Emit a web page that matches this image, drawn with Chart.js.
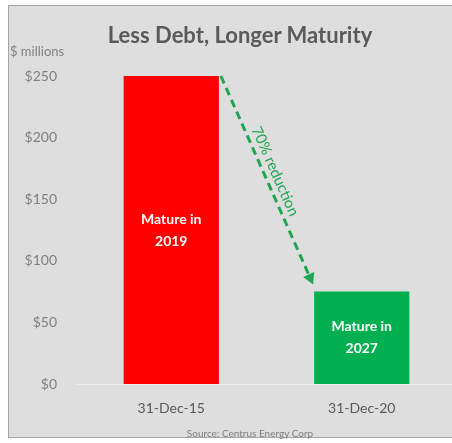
<!DOCTYPE html>
<html>
<head>
<meta charset="utf-8">
<script src="https://cdn.jsdelivr.net/npm/chart.js@4"></script>
<style>
body{margin:0;background:#fff;overflow:hidden;width:452px;height:443px;position:relative;font-family:Lato,'Open Sans',sans-serif}
#frame{position:absolute;left:8px;top:5px;width:460px;height:431px;background:#dedede;border:1px solid #a6a6a6}
#wrap{position:absolute;left:0;top:0}
.txt{position:absolute;white-space:nowrap;line-height:1}
#title{left:0;width:480px;top:24px;text-align:center;font-size:22px;font-weight:bold;color:#5a5a5a}
#units{left:10px;top:45px;font-size:13px;color:#808080}
#source{left:0;width:500px;top:428px;text-align:center;font-size:10px;color:#808080}
</style>
</head>
<body>
<div id="frame"></div>
<div id="wrap"><canvas id="chart" width="457" height="443"></canvas></div>
<div class="txt" id="title">Less Debt, Longer Maturity</div>
<div class="txt" id="units">$ millions</div>
<div class="txt" id="source">Source: Centrus Energy Corp</div>
<script>
const categories = ['31-Dec-15', '31-Dec-20'];
const debtValues = [250, 75];
const barColors = ['#ff0000', '#00b050'];
const barLabels = [['Mature in', '2019'], ['Mature in', '2027']];
const arrowLabel = '70% reduction';
const yMax = 250;
const yStep = 50;

const FONT = "Lato, 'Open Sans', sans-serif";

// text inside bars + dashed arrow between them
const notes = {
  id: 'notes',
  afterDatasetsDraw(chart) {
    const ctx = chart.ctx;
    const bars = chart.getDatasetMeta(0).data;
    ctx.save();
    ctx.fillStyle = '#ffffff';
    ctx.font = 'bold 14px ' + FONT;
    ctx.textAlign = 'center';
    ctx.textBaseline = 'middle';
    bars.forEach((b, i) => {
      const lines = barLabels[i];
      const cy = (b.y + b.base) / 2;
      lines.forEach((t, k) => {
        ctx.fillText(t, b.x, cy + (k - (lines.length - 1) / 2) * 22);
      });
    });

    const a = bars[0], g = bars[1];
    const x1 = a.x + a.width / 2 + 2, y1 = a.y;
    const x2 = g.x - g.width / 2 - 1, y2 = g.y - 7;
    const ang = Math.atan2(y2 - y1, x2 - x1);
    const head = 11;
    ctx.strokeStyle = '#1fa552';
    ctx.fillStyle = '#1fa552';
    ctx.lineWidth = 3;
    ctx.setLineDash([8, 5]);
    ctx.beginPath();
    ctx.moveTo(x1, y1);
    ctx.lineTo(x2 - head * Math.cos(ang), y2 - head * Math.sin(ang));
    ctx.stroke();
    ctx.setLineDash([]);
    ctx.beginPath();
    ctx.moveTo(x2, y2);
    ctx.lineTo(x2 - head * Math.cos(ang) + 6 * Math.sin(ang), y2 - head * Math.sin(ang) - 6 * Math.cos(ang));
    ctx.lineTo(x2 - head * Math.cos(ang) - 6 * Math.sin(ang), y2 - head * Math.sin(ang) + 6 * Math.cos(ang));
    ctx.closePath();
    ctx.fill();

    ctx.translate((x1 + x2) / 2, (y1 + y2) / 2);
    ctx.rotate(ang);
    ctx.font = '15px ' + FONT;
    ctx.fillText(arrowLabel, -5, -11);
    ctx.restore();
  }
};

new Chart(document.getElementById('chart'), {
  type: 'bar',
  data: {
    labels: categories,
    datasets: [{
      data: debtValues,
      backgroundColor: barColors,
      borderWidth: 0,
      categoryPercentage: 1,
      barPercentage: 0.5
    }]
  },
  options: {
    responsive: false,
    animation: false,
    layout: {padding: {top: 76, left: 0, right: 0, bottom: 0}},
    plugins: {legend: {display: false}, tooltip: {enabled: false}},
    scales: {
      x: {
        grid: {display: false, drawTicks: false},
        border: {color: '#ececec', width: 1},
        ticks: {color: '#595959', font: {family: FONT, size: 14}, padding: 16},
        afterFit: s => { s.height = 59; }
      },
      y: {
        min: 0,
        max: yMax,
        grid: {display: false, drawTicks: false},
        border: {display: false},
        ticks: {
          stepSize: yStep,
          color: '#808080',
          font: {family: FONT, size: 14},
          padding: 19,
          callback: v => '$' + v
        },
        afterFit: s => { s.width = 76; }
      }
    }
  },
  plugins: [notes]
});
</script>
</body>
</html>
